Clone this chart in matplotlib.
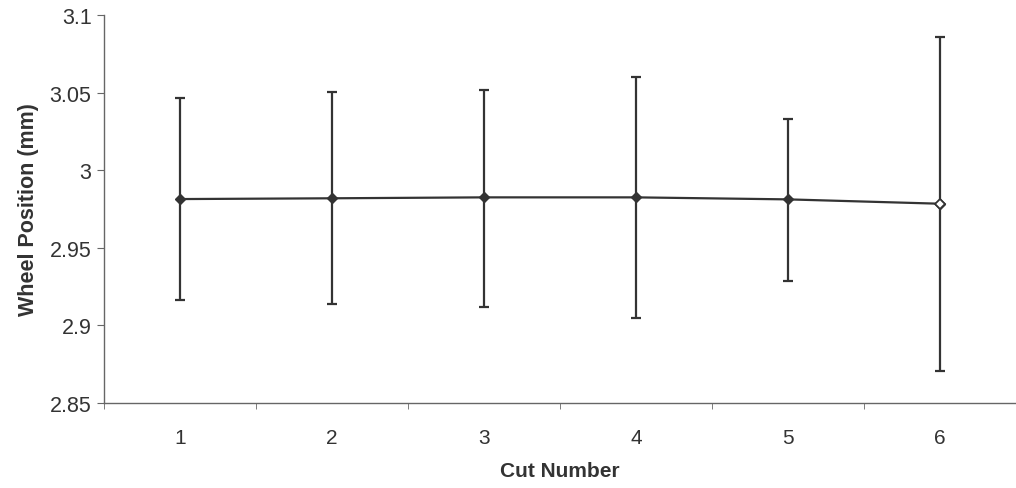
import matplotlib
matplotlib.use("Agg")
import matplotlib.pyplot as plt
import numpy as np

# Data
cut_number = [1, 2, 3, 4, 5, 6]
wheel_pos = [2.9814, 2.9819, 2.9825, 2.9825, 2.9812, 2.9784]
upper = [3.0463, 3.0504, 3.0517, 3.0600, 3.0330, 3.0858]
lower = [2.9166, 2.9138, 2.9119, 2.9048, 2.9286, 2.8706]
y_ticks = [2.85, 2.9, 2.95, 3.0, 3.05, 3.1]
y_tick_labels = ["2.85", "2.9", "2.95", "3", "3.05", "3.1"]

plt.rcParams['font.family'] = ['Liberation Sans', 'DejaVu Sans']

ink = '#333333'
axis_col = '#666666'

fig = plt.figure(figsize=(10.16, 4.89), dpi=100)
ax = fig.add_axes([0.1024, 0.1738, 0.8976, 0.7935])

x = np.array(cut_number)
y = np.array(wheel_pos)
yerr = np.vstack([y - np.array(lower), np.array(upper) - y])

ax.errorbar(x, y, yerr=yerr, color=ink, linewidth=1.6, elinewidth=1.6,
            capsize=3.5, capthick=1.6, marker='D', markersize=5,
            markerfacecolor=ink, markeredgecolor=ink, zorder=3)
# last point drawn hollow as in the original
ax.plot(x[-1:], y[-1:], 'D', markersize=5, markerfacecolor='white',
        markeredgecolor=ink, markeredgewidth=1.3, zorder=4)

ax.set_xlim(0.5, 6.5)
ax.set_ylim(2.85, 3.1)

ax.set_yticks(y_ticks)
ax.set_yticklabels(y_tick_labels)
ax.set_xticks(x)
ax.set_xticklabels([str(c) for c in cut_number])
ax.set_xticks(np.arange(0.5, 7.0, 1.0), minor=True)
ax.tick_params(axis='x', which='major', length=0, pad=18, labelsize=15, labelcolor=ink)
ax.tick_params(axis='x', which='minor', length=4, direction='out', color=axis_col)
ax.tick_params(axis='y', length=5, direction='out', color=axis_col, labelsize=15.5,
               labelcolor=ink, pad=4)

ax.set_xlabel('Cut Number', fontsize=15, fontweight='bold', color=ink, labelpad=10)
ax.set_ylabel('Wheel Position (mm)', fontsize=15.5, fontweight='bold', color=ink, labelpad=8)

ax.spines['top'].set_visible(False)
ax.spines['right'].set_visible(False)
for s in ['left', 'bottom']:
    ax.spines[s].set_color(axis_col)
    ax.spines[s].set_linewidth(1.0)

fig.savefig('out.png', dpi=100)
